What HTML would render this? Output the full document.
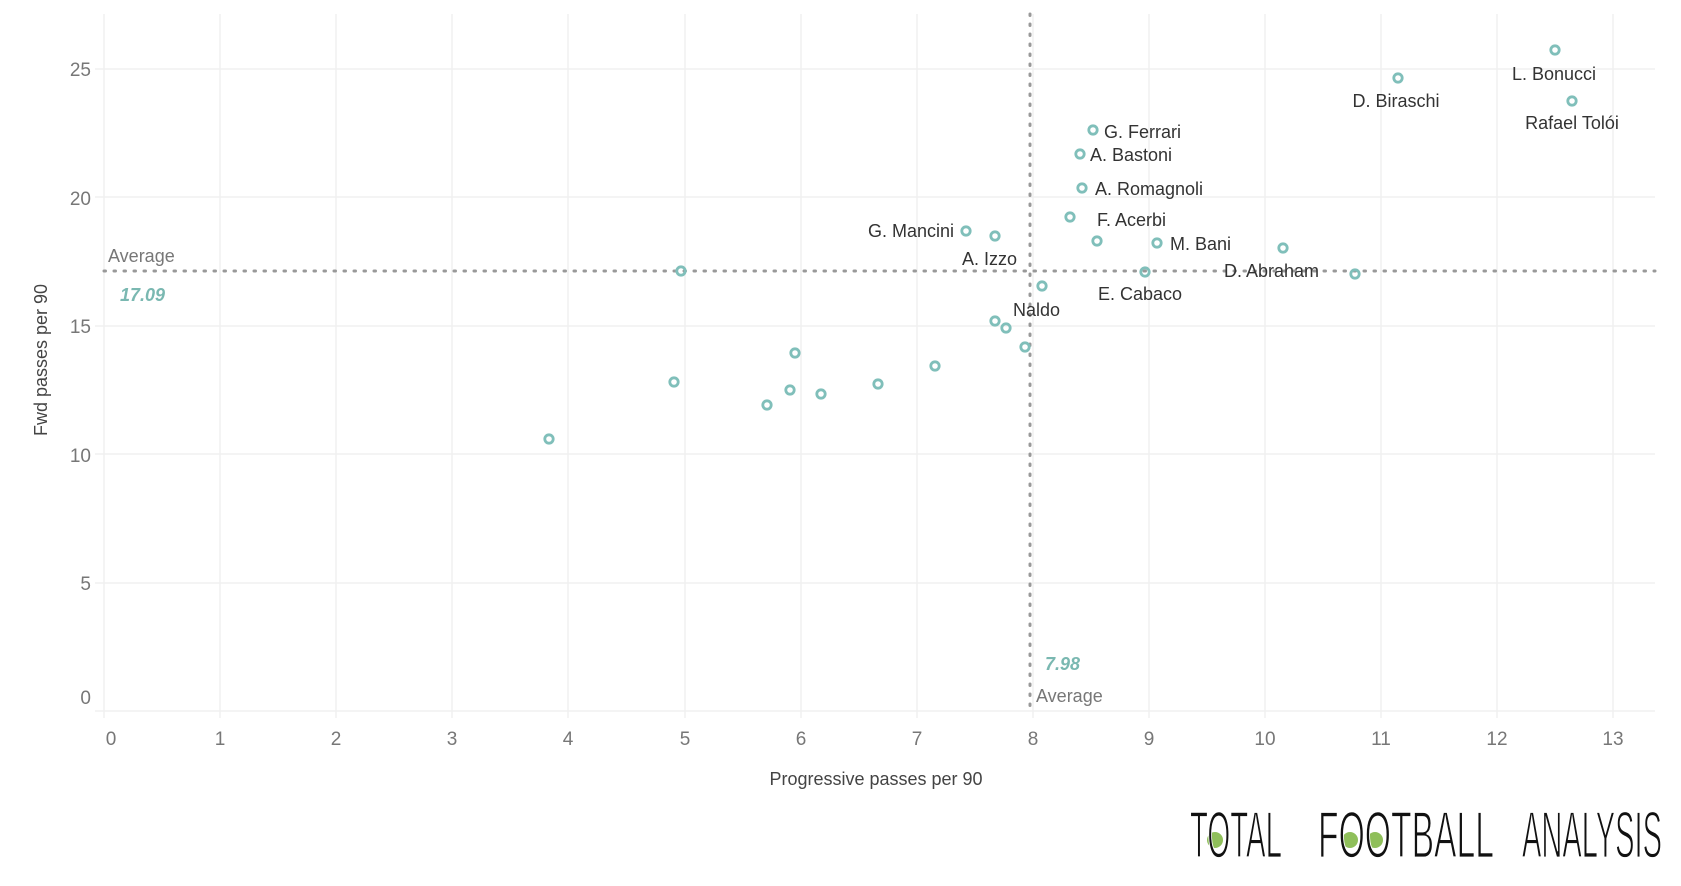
<!DOCTYPE html>
<html><head><meta charset="utf-8"><style>
html,body{margin:0;padding:0;background:#fff;}
svg{display:block;font-family:"Liberation Sans",sans-serif;}
</style></head><body>
<svg width="1681" height="886" viewBox="0 0 1681 886" xmlns="http://www.w3.org/2000/svg">
<g stroke="#f0f0f0" stroke-width="1.5">
<line x1="104" y1="14" x2="104" y2="718"/><line x1="220" y1="14" x2="220" y2="718"/><line x1="336" y1="14" x2="336" y2="718"/><line x1="452" y1="14" x2="452" y2="718"/><line x1="568" y1="14" x2="568" y2="718"/><line x1="685" y1="14" x2="685" y2="718"/><line x1="801" y1="14" x2="801" y2="718"/><line x1="917" y1="14" x2="917" y2="718"/><line x1="1033" y1="14" x2="1033" y2="718"/><line x1="1149" y1="14" x2="1149" y2="718"/><line x1="1265" y1="14" x2="1265" y2="718"/><line x1="1381" y1="14" x2="1381" y2="718"/><line x1="1497" y1="14" x2="1497" y2="718"/><line x1="1613" y1="14" x2="1613" y2="718"/>
<line x1="95" y1="711" x2="1655" y2="711"/><line x1="95" y1="583" x2="1655" y2="583"/><line x1="95" y1="454" x2="1655" y2="454"/><line x1="95" y1="326" x2="1655" y2="326"/><line x1="95" y1="197" x2="1655" y2="197"/><line x1="95" y1="69" x2="1655" y2="69"/>
</g>
<g fill="#777" font-size="19" text-anchor="end">
<text x="91" y="76">25</text><text x="91" y="205">20</text><text x="91" y="333">15</text><text x="91" y="462">10</text><text x="91" y="590">5</text><text x="91" y="704">0</text>
</g>
<g fill="#777" font-size="19" text-anchor="middle">
<text x="111" y="745">0</text><text x="220" y="745">1</text><text x="336" y="745">2</text><text x="452" y="745">3</text><text x="568" y="745">4</text><text x="685" y="745">5</text><text x="801" y="745">6</text><text x="917" y="745">7</text><text x="1033" y="745">8</text><text x="1149" y="745">9</text><text x="1265" y="745">10</text><text x="1381" y="745">11</text><text x="1497" y="745">12</text><text x="1613" y="745">13</text>
</g>
<text x="876" y="785" fill="#444" font-size="18" text-anchor="middle">Progressive passes per 90</text>
<text transform="translate(47,360) rotate(-90)" fill="#444" font-size="18" text-anchor="middle">Fwd passes per 90</text>
<line x1="104" y1="271" x2="1655" y2="271" stroke="#999" stroke-width="3" stroke-dasharray="1.5 8.5" stroke-linecap="round"/>
<line x1="1030" y1="14" x2="1030" y2="711" stroke="#999" stroke-width="3" stroke-dasharray="1.5 8.5" stroke-linecap="round"/>
<text x="108" y="262" fill="#777" font-size="18">Average</text>
<text x="120" y="301" fill="#7ab8b1" font-size="18" font-weight="bold" font-style="italic">17.09</text>
<text x="1045" y="670" fill="#7ab8b1" font-size="18" font-weight="bold" font-style="italic">7.98</text>
<text x="1036" y="702" fill="#777" font-size="18">Average</text>
<g fill="none" stroke="#80bfba" stroke-width="2.8">
<circle cx="1555" cy="50" r="4.2"/><circle cx="1398" cy="78" r="4.2"/><circle cx="1572" cy="101" r="4.2"/><circle cx="1093" cy="130" r="4.2"/><circle cx="1080" cy="154" r="4.2"/><circle cx="1082" cy="188" r="4.2"/><circle cx="1070" cy="217" r="4.2"/><circle cx="1097" cy="241" r="4.2"/><circle cx="1157" cy="243" r="4.2"/><circle cx="1283" cy="248" r="4.2"/><circle cx="966" cy="231" r="4.2"/><circle cx="995" cy="236" r="4.2"/><circle cx="681" cy="271" r="4.2"/><circle cx="1145" cy="272" r="4.2"/><circle cx="1355" cy="274" r="4.2"/><circle cx="1042" cy="286" r="4.2"/><circle cx="995" cy="321" r="4.2"/><circle cx="1006" cy="328" r="4.2"/><circle cx="1025" cy="347" r="4.2"/><circle cx="795" cy="353" r="4.2"/><circle cx="674" cy="382" r="4.2"/><circle cx="878" cy="384" r="4.2"/><circle cx="935" cy="366" r="4.2"/><circle cx="790" cy="390" r="4.2"/><circle cx="821" cy="394" r="4.2"/><circle cx="767" cy="405" r="4.2"/><circle cx="549" cy="439" r="4.2"/>
</g>
<g fill="#333" font-size="18">
<text x="1554" y="80" text-anchor="middle">L. Bonucci</text>
<text x="1396" y="107" text-anchor="middle">D. Biraschi</text>
<text x="1572" y="129" text-anchor="middle">Rafael Tolói</text>
<text x="1104" y="138">G. Ferrari</text>
<text x="1090" y="161">A. Bastoni</text>
<text x="1095" y="195">A. Romagnoli</text>
<text x="1097" y="226">F. Acerbi</text>
<text x="1170" y="250">M. Bani</text>
<text x="954" y="237" text-anchor="end">G. Mancini</text>
<text x="962" y="265">A. Izzo</text>
<text x="1224" y="277">D. Abraham</text>
<text x="1098" y="300">E. Cabaco</text>
<text x="1013" y="316">Naldo</text>
</g>
<g fill="#8fbf5a">
<circle cx="1215" cy="840" r="8"/><circle cx="1350" cy="840" r="8"/><circle cx="1375" cy="840" r="8"/>
</g>
<g font-size="44" fill="#111" stroke="#fff" stroke-width="1.1" font-family="Liberation Sans Narrow, Liberation Sans, sans-serif" transform="translate(0,-425) scale(1,1.5)">
<text x="1190" y="855" textLength="92" lengthAdjust="spacingAndGlyphs">TOTAL</text>
<text x="1318" y="855" textLength="176" lengthAdjust="spacingAndGlyphs">FOOTBALL</text>
<text x="1522" y="855" textLength="140" lengthAdjust="spacingAndGlyphs">ANALYSIS</text>
</g>
</svg>
</body></html>
